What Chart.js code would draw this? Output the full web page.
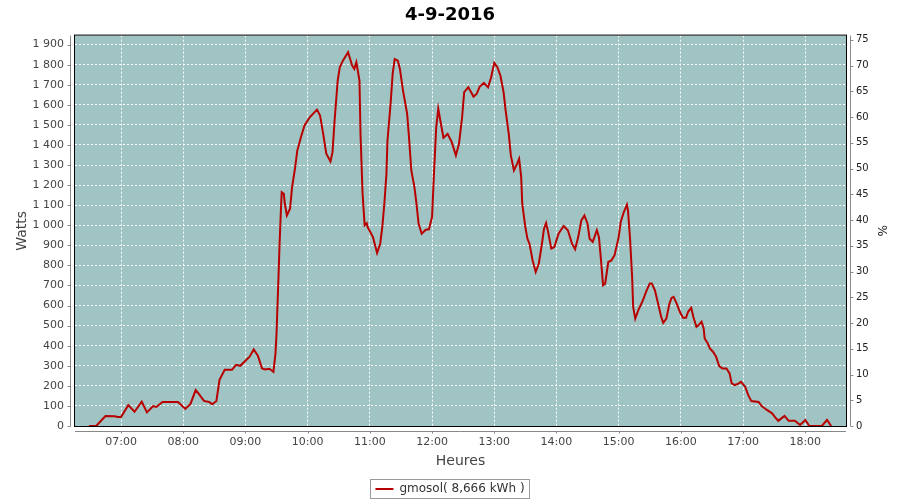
<!DOCTYPE html>
<html>
<head>
<meta charset="utf-8">
<script src="https://cdn.jsdelivr.net/npm/chart.js@4/dist/chart.umd.min.js"></script>
<style>
  html, body { margin: 0; padding: 0; background: #fff; }
  #wrap { width: 900px; height: 500px; }
</style>
</head>
<body>
<div id="wrap"><canvas id="myChart" width="900" height="500"></canvas></div>
<script>
// data
var times = ["06:29","06:36","06:45","06:54","06:57","07:00","07:07","07:13","07:20","07:25","07:31","07:34","07:40","07:55",
  "08:02","08:07","08:12","08:15","08:20","08:25","08:28","08:32","08:35","08:40","08:47","08:51","08:55",
  "09:00","09:04","09:08","09:12","09:16","09:19","09:23","09:25","09:27","09:29","09:30","09:32","09:33","09:34","09:35","09:37","09:38","09:40","09:43","09:45","09:48","09:50","09:54","09:57",
  "10:02","10:09","10:12","10:15","10:18","10:22","10:24","10:26","10:29","10:31","10:34","10:39","10:43","10:45","10:47","10:50","10:51","10:53","10:55","10:57","10:58",
  "11:03","11:07","11:10","11:12","11:14","11:16","11:17","11:20","11:22","11:24","11:27","11:29","11:32","11:36","11:38","11:40","11:43","11:45","11:47","11:50","11:54","11:57",
  "12:00","12:02","12:04","12:06","12:08","12:11","12:15","12:19","12:23","12:26","12:29","12:31","12:35","12:40","12:43","12:46","12:50","12:54","12:57",
  "13:00","13:03","13:06","13:09","13:11","13:14","13:16","13:19","13:22","13:24","13:26","13:27","13:30","13:32","13:34","13:37","13:40","13:43","13:46","13:48","13:50","13:52","13:55","13:58",
  "14:02","14:07","14:11","14:15","14:18","14:21","14:24","14:27","14:30","14:32","14:35","14:39","14:41","14:43","14:45","14:47","14:50","14:53","14:56",
  "15:00","15:02","15:05","15:08","15:09","15:11","15:13","15:14","15:16","15:19","15:22","15:24","15:27","15:30","15:32","15:35","15:38","15:41","15:43","15:46","15:49","15:51","15:53","15:56","15:59",
  "16:02","16:05","16:07","16:10","16:12","16:15","16:17","16:20","16:22","16:23","16:26","16:28","16:31","16:34","16:37","16:40","16:44","16:47","16:49","16:52","16:55","16:58",
  "17:02","17:05","17:08","17:15","17:18","17:23","17:28","17:31","17:34","17:40","17:44","17:50","17:55",
  "18:00","18:04","18:16","18:21","18:25"];
var watts = [0,0,50,48,45,45,104,71,121,68,99,95,120,120,
  85,110,179,160,125,120,108,125,230,280,280,305,300,
  325,345,381,350,287,282,285,278,270,363,462,760,917,1049,1165,1157,1107,1049,1082,1190,1290,1372,1447,1497,
  1538,1576,1547,1455,1356,1318,1364,1522,1721,1787,1820,1862,1795,1779,1812,1721,1455,1157,1000,1010,990,
  941,862,908,991,1107,1256,1422,1605,1754,1828,1820,1779,1671,1555,1422,1273,1190,1107,1008,958,978,980,
  1041,1273,1488,1580,1522,1436,1455,1414,1348,1406,1538,1663,1687,1641,1654,1691,1709,1687,1737,
  1809,1787,1745,1663,1571,1455,1348,1273,1306,1331,1240,1107,991,933,908,825,767,809,908,983,1011,966,884,892,
  958,996,975,908,880,941,1024,1049,1008,933,917,975,941,825,701,709,817,825,850,
  941,1016,1066,1102,1074,933,743,593,535,577,610,635,676,710,710,676,610,544,514,535,610,638,643,610,569,
  539,539,569,589,544,494,502,519,486,436,411,386,370,345,298,287,287,262,212,204,210,220,
  196,154,124,120,99,80,63,43,26,50,26,26,5,
  30,0,0,30,0];
var hourLabels = ["07:00","08:00","09:00","10:00","11:00","12:00","13:00","14:00","15:00","16:00","17:00","18:00"];
var seriesName = "gmosol( 8,666 kWh )";

function toMin(s) { var p = s.split(":"); return (+p[0]) * 60 + (+p[1]); }
var points = times.map(function (t, i) { return { x: toMin(t), y: watts[i] }; });
var hourTicks = hourLabels.map(toMin);

var font = "'DejaVu Sans', sans-serif";

// plot background, black frame, offset grey axis lines, box round legend
var jfreeLook = {
  id: "jfreeLook",
  beforeDraw: function (chart) {
    var a = chart.chartArea, c = chart.ctx;
    c.save();
    c.fillStyle = "#9fc4c3";
    c.fillRect(a.left, a.top, a.right - a.left, a.bottom - a.top);
    c.restore();
  },
  beforeDatasetsDraw: function (chart) {
    var a = chart.chartArea, c = chart.ctx;
    c.save();
    c.strokeStyle = "#000";
    c.lineWidth = 1;
    c.strokeRect(a.left - 0.5, a.top - 0.5, a.right - a.left + 1, a.bottom - a.top + 1);
    c.restore();
  },
  afterDraw: function (chart) {
    var a = chart.chartArea, c = chart.ctx, s = chart.scales;
    c.save();
    c.strokeStyle = "#888";
    c.lineWidth = 1;
    c.beginPath();
    // left axis
    var lx = a.left - 4.5;
    c.moveTo(lx, a.top); c.lineTo(lx, a.bottom);
    s.y.ticks.forEach(function (t) { var py = Math.round(s.y.getPixelForValue(t.value)) + 0.5; c.moveTo(lx, py); c.lineTo(lx - 3, py); });
    // right axis
    var rx = a.right + 4.5;
    c.moveTo(rx, a.top); c.lineTo(rx, a.bottom);
    s.y2.ticks.forEach(function (t) { var py = Math.round(s.y2.getPixelForValue(t.value)) + 0.5; c.moveTo(rx, py); c.lineTo(rx + 3, py); });
    // bottom axis
    var by = a.bottom + 5.5;
    c.moveTo(a.left, by); c.lineTo(a.right, by);
    s.x.ticks.forEach(function (t) { var px = Math.round(s.x.getPixelForValue(t.value)) + 0.5; c.moveTo(px, by); c.lineTo(px, by + 2); });
    c.stroke();
    // legend frame
    var lg = chart.legend;
    if (lg && lg.legendHitBoxes && lg.legendHitBoxes.length) {
      var hb = lg.legendHitBoxes[0];
      c.strokeStyle = "#999";
      c.strokeRect(Math.round(hb.left) - 4.5, Math.round(hb.top) - 3.5, Math.round(hb.width) + 10, Math.round(hb.height) + 7);
    }
    c.restore();
  }
};

new Chart("myChart", {
  type: "line",
  data: {
    datasets: [{
      label: seriesName,
      data: points,
      borderColor: "#b80000",
      backgroundColor: "#b80000",
      borderWidth: 2,
      pointRadius: 0,
      tension: 0,
      fill: false
    }]
  },
  options: {
    responsive: false,
    animation: false,
    layout: { padding: { left: 0, right: 0, top: 0, bottom: -5 } },
    plugins: {
      title: {
        display: true,
        text: "4-9-2016",
        color: "#000",
        font: { family: font, size: 18, weight: "bold" },
        padding: { top: 5, bottom: 9 }
      },
      legend: {
        position: "bottom",
        labels: {
          usePointStyle: true,
          pointStyle: "line",
          pointStyleWidth: 18,
          boxHeight: 12,
          padding: 4,
          color: "#333",
          font: { family: font, size: 12 }
        }
      },
      tooltip: { enabled: false }
    },
    scales: {
      x: {
        type: "linear",
        min: 375.6,
        max: 1119.3,
        afterBuildTicks: function (sc) { sc.ticks = hourTicks.map(function (v) { return { value: v }; }); },
        afterFit: function (sc) { sc.height = 53; },
        ticks: {
          color: "#444",
          font: { family: font, size: 11 },
          padding: 10,
          maxRotation: 0,
          callback: function (v) { return hourLabels[hourTicks.indexOf(v)]; }
        },
        grid: { color: "#fff", lineWidth: 1, drawTicks: false },
        border: { display: false, dash: [2, 2] },
        title: { display: true, text: "Heures", color: "#444", font: { family: font, size: 14 }, padding: { top: 4, bottom: 9 } }
      },
      y: {
        position: "left",
        min: 0,
        max: 1944.8,
        afterFit: function (sc) { sc.width = 75; },
        ticks: {
          stepSize: 100,
          includeBounds: false,
          color: "#444",
          font: { family: font, size: 11 },
          padding: 11,
          callback: function (v) { return String(v).replace(/\B(?=(\d{3})+(?!\d))/g, " "); }
        },
        grid: { color: "#fff", lineWidth: 1, drawTicks: false },
        border: { display: false, dash: [2, 2] },
        title: { display: true, text: "Watts", color: "#444", font: { family: font, size: 14 }, padding: { top: 14, bottom: 0 } }
      },
      y2: {
        position: "right",
        min: 0,
        max: 75.83,
        afterFit: function (sc) { sc.width = 54; },
        ticks: {
          stepSize: 5,
          includeBounds: false,
          color: "#222",
          font: { family: font, size: 10 },
          padding: 10
        },
        grid: { display: false, drawTicks: false },
        border: { display: false },
        title: { display: true, text: "%", color: "#222", font: { family: font, size: 12 }, padding: { top: 12, bottom: 0 } }
      }
    }
  },
  plugins: [jfreeLook]
});
</script>
</body>
</html>
